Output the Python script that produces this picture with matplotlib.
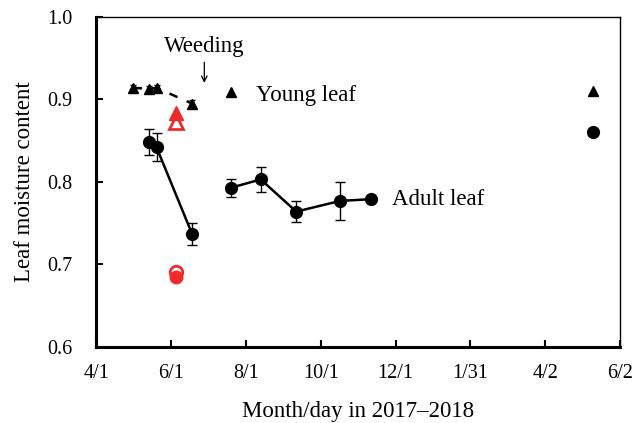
import matplotlib
matplotlib.use("Agg")
import matplotlib.pyplot as plt
import pandas as pd

plt.rcParams['font.family'] = ['Liberation Serif', 'DejaVu Serif']

# young leaf (triangles)
young_dates = pd.to_datetime(["2017-05-01", "2017-05-14", "2017-05-20", "2017-06-18"])
young_vals = [0.914, 0.913, 0.914, 0.895]
young_err = [0.003, 0.003, 0.004, 0.004]
young_extra_dates = pd.to_datetime(["2017-07-20", "2018-05-11"])
young_extra_vals = [0.909, 0.910]

# adult leaf (circles)
adult_dates_a = pd.to_datetime(["2017-05-14", "2017-05-20", "2017-06-18"])
adult_vals_a = [0.848, 0.842, 0.737]
adult_err_a = [0.016, 0.017, 0.013]
adult_dates_b = pd.to_datetime(["2017-07-20", "2017-08-13", "2017-09-11", "2017-10-17", "2017-11-11"])
adult_vals_b = [0.793, 0.803, 0.764, 0.777, 0.779]
adult_err_b = [0.011, 0.015, 0.013, 0.023, 0.002]
adult_extra_dates = pd.to_datetime(["2018-05-11"])
adult_extra_vals = [0.861]

# red points (weeded plot)
red_date = pd.to_datetime(["2017-06-05"])
red_young_filled = [0.884]
red_young_open = [0.873]
red_adult_filled = [0.685]
red_adult_open = [0.691]

tick_dates = pd.to_datetime(["2017-04-01", "2017-06-01", "2017-08-01", "2017-10-01",
                             "2017-12-01", "2018-01-31", "2018-04-02", "2018-06-02"])
tick_labels = ["4/1", "6/1", "8/1", "10/1", "12/1", "1/31", "4/2", "6/2"]

red = "#ee2b2b"

fig = plt.figure(figsize=(6.43, 4.23), dpi=100)
ax = fig.add_axes([0.150, 0.180, 0.814, 0.780])

# young leaf
ax.errorbar(young_dates, young_vals, yerr=young_err, fmt='^', color='black',
            ms=7.5, capsize=2, elinewidth=1, zorder=3)
ax.plot(young_dates, young_vals, '--', color='black', lw=1.8, dashes=(3.5, 4))
ax.plot(young_extra_dates, young_extra_vals, '^', color='black', ms=7.5)

# adult leaf
ax.errorbar(adult_dates_a, adult_vals_a, yerr=adult_err_a, fmt='o-', color='black',
            ms=8.5, lw=1.8, capsize=3.5, elinewidth=1, capthick=1)
ax.errorbar(adult_dates_b, adult_vals_b, yerr=adult_err_b, fmt='o-', color='black',
            ms=8.5, lw=1.8, capsize=3.5, elinewidth=1, capthick=1)
ax.plot(adult_extra_dates, adult_extra_vals, 'o', color='black', ms=8.5)

# red
ax.plot(red_date, red_young_open, '^', mfc='white', mec=red, mew=2, ms=10, zorder=4)
ax.plot(red_date, red_young_filled, '^', color=red, ms=10, zorder=5)
ax.plot(red_date, red_adult_open, 'o', mfc='white', mec=red, mew=2, ms=9, zorder=4)
ax.plot(red_date, red_adult_filled, 'o', color=red, ms=9, zorder=5)

weed_day = pd.Timestamp("2017-06-28")
ax.text(weed_day, 0.964, "Weeding", ha='center', va='center', fontsize=16.5)
ax.annotate("", xy=(weed_day, 0.920), xytext=(weed_day, 0.945),
            arrowprops=dict(arrowstyle='->', color='black', lw=0.9,
                            shrinkA=0, shrinkB=0, mutation_scale=10))
ax.text(pd.Timestamp("2017-08-09"), 0.905, "Young leaf", fontsize=16.5, va='center')
ax.text(pd.Timestamp("2017-11-28"), 0.779, "Adult leaf", fontsize=16.5, va='center')

ax.set_xlim(tick_dates[0], tick_dates[-1])
ax.set_ylim(0.6, 1.0)
ax.set_xticks(tick_dates)
ax.set_xticklabels(tick_labels)
ax.set_yticks([0.6, 0.7, 0.8, 0.9, 1.0])
ax.set_yticklabels(["0.6", "0.7", "0.8", "0.9", "1.0"])
ax.tick_params(direction='in', length=5, width=1.5, labelsize=14.5)
ax.tick_params(axis='y', pad=17)
ax.tick_params(axis='x', pad=12)

ax.spines['left'].set_linewidth(2.2)
ax.spines['bottom'].set_linewidth(2.2)
ax.spines['top'].set_linewidth(1)
ax.spines['right'].set_linewidth(1)

ax.set_xlabel("Month/day in 2017\u20132018", fontsize=16.5, labelpad=13)
ax.set_ylabel("Leaf moisture content", fontsize=16.5, labelpad=9)

fig.savefig("out.png", dpi=100)
